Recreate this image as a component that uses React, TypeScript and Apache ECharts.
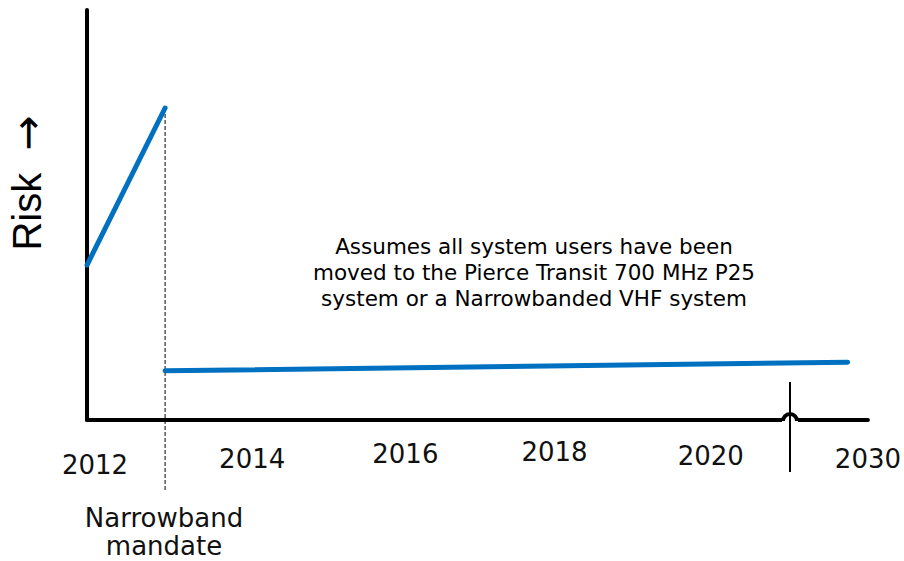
import React, { useEffect, useRef } from "react";
import * as echarts from "echarts";

// Timeline (arbitrary units 0–100 along the x axis) and risk level (0–100)
const riskBeforeMandate: [number, number][] = [
  [0, 37.8],
  [10, 76.1],
];
const riskAfterMandate: [number, number][] = [
  [10, 12],
  [97.4, 14.1],
];
const mandateX = 10;
const tickYears = ["2012", "2014", "2016", "2018", "2020", "2030"];
const annotation = [
  "Assumes all system users have been",
  "moved to the Pierce Transit 700 MHz P25",
  "system or a Narrowbanded VHF system",
];
const mandateLabel = ["Narrowband", "mandate"];
const yAxisTitle = "Risk";

const FONT = "DejaVu Sans";

export default function App() {
  const ref = useRef<HTMLDivElement>(null);

  useEffect(() => {
    document.body.style.margin = "0";
    if (!ref.current) return;
    const chart = echarts.init(ref.current, undefined, { renderer: "svg" });

    // per-label layout: line height (vertical placement) and [top,right,bottom,left] padding
    const lhs = [90, 78, 68, 64, 72, 78];
    const pads = [
      [0, 0, 0, 16],
      [0, 0, 0, 18],
      [0, 0, 0, 12],
      [0, 2, 0, 0],
      [0, 2, 0, 0],
      [0, 0, 0, 0],
    ];
    const rich: Record<string, any> = {};
    pads.forEach((p, i) => {
      rich["l" + i] = {
        fontFamily: FONT,
        fontSize: 26,
        lineHeight: lhs[i],
        color: "#111",
        padding: p,
      };
    });

    chart.setOption({
      animation: false,
      backgroundColor: "#fff",
      grid: { left: 87, right: 36, top: 10, bottom: 141, containLabel: false },
      xAxis: {
        type: "value",
        min: 0,
        max: 100,
        interval: 20,
        axisLine: { show: true, onZero: false, lineStyle: { color: "#000", width: 4 } },
        axisTick: { show: false },
        splitLine: { show: false },
        axisLabel: {
          show: true,
          margin: 0,
          showMinLabel: true,
          showMaxLabel: true,
          formatter: (v: number) => {
            const i = Math.round(v / 20);
            return `{l${i}|${tickYears[i] ?? ""}}`;
          },
          rich,
        },
      },
      yAxis: {
        type: "value",
        min: 0,
        max: 100,
        axisLine: { show: true, lineStyle: { color: "#000", width: 4 } },
        axisTick: { show: false },
        axisLabel: { show: false },
        splitLine: { show: false },
      },
      series: [
        {
          type: "line",
          data: riskBeforeMandate,
          symbol: "none",
          lineStyle: { color: "#0070C0", width: 5, cap: "round" },
          z: 5,
        },
        {
          type: "line",
          data: riskAfterMandate,
          symbol: "none",
          lineStyle: { color: "#0070C0", width: 5, cap: "round" },
          z: 5,
        },
        {
          type: "line",
          data: [
            [mandateX, riskBeforeMandate[1][1]],
            [mandateX, -17.1],
          ],
          symbol: "none",
          clip: false,
          lineStyle: { color: "#000", width: 1, type: [4, 2] },
          z: 4,
        },
      ],
      graphic: [
        {
          type: "text",
          x: 27,
          y: 183,
          rotation: Math.PI / 2,
          style: {
            text: `{a|${yAxisTitle}  }{b|\u2192}`,
            fill: "#000",
            align: "center",
            verticalAlign: "middle",
            rich: {
              a: { fontFamily: "Liberation Sans", fontSize: 40, color: "#000" },
              b: { fontFamily: "DejaVu Sans", fontSize: 42, color: "#000" },
            },
          },
        },
        {
          type: "text",
          x: 534,
          y: 233,
          style: {
            text: annotation.join("\n"),
            font: `21.5px "${FONT}"`,
            lineHeight: 26,
            fill: "#000",
            align: "center",
            verticalAlign: "top",
          },
        },
        {
          type: "text",
          x: 164,
          y: 504,
          style: {
            text: mandateLabel.join("\n"),
            font: `26px "${FONT}"`,
            lineHeight: 28,
            fill: "#111",
            align: "center",
            verticalAlign: "top",
          },
        },
        {
          type: "rect",
          z: 100,
          shape: { x: 782, y: 417, width: 16, height: 7 },
          style: { fill: "#fff" },
        },
        {
          type: "arc",
          z: 101,
          shape: { cx: 790, cy: 421, r: 7, startAngle: Math.PI, endAngle: 2 * Math.PI, clockwise: true },
          style: { stroke: "#000", lineWidth: 4, fill: "none" },
        },
        {
          type: "line",
          z: 102,
          shape: { x1: 790, y1: 382, x2: 790, y2: 472 },
          style: { stroke: "#000", lineWidth: 2 },
        },
      ],
    });

    return () => chart.dispose();
  }, []);

  return <div ref={ref} style={{ width: 904, height: 561 }} />;
}
